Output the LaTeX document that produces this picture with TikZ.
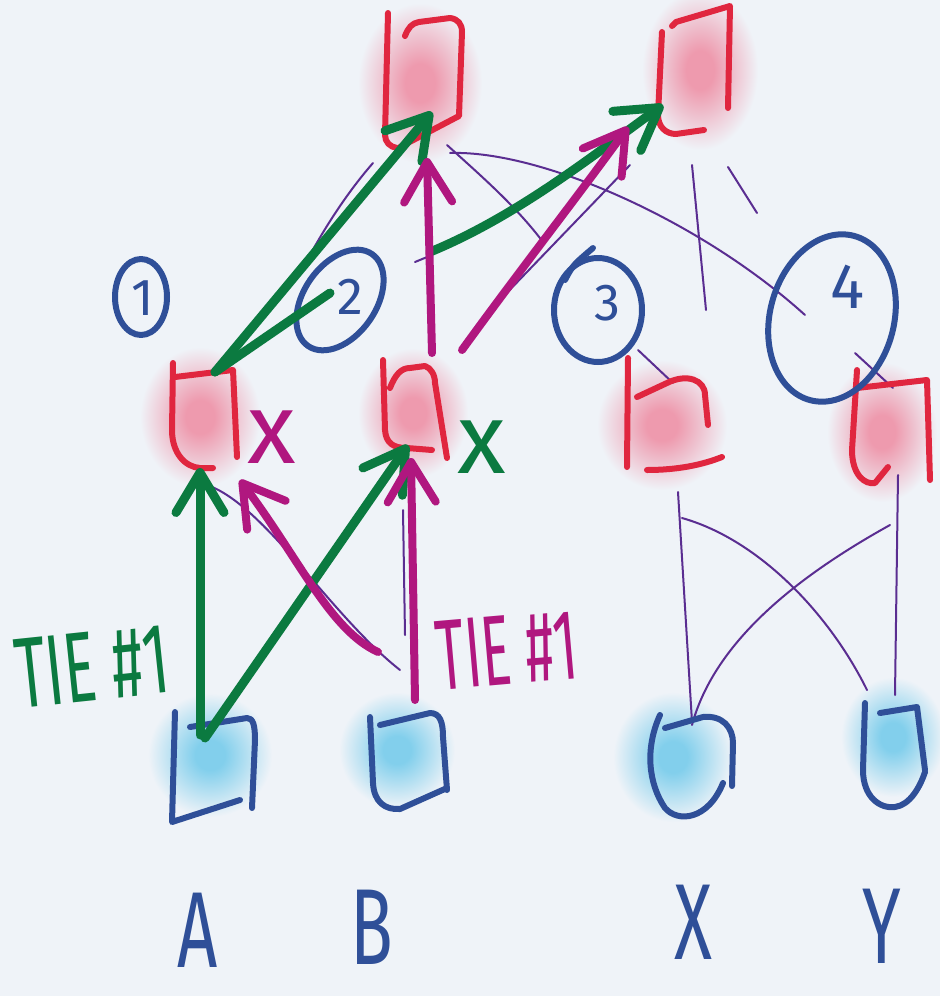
\documentclass[tikz,border=0pt]{standalone}
\usepackage{fontspec}
\newfontfamily\hand{Fira Sans}
\usetikzlibrary{arrows.meta}

\definecolor{bg}{HTML}{EFF3F8}
\definecolor{redc}{HTML}{E0263F}
\definecolor{bluec}{HTML}{2F4F98}
\definecolor{greenc}{HTML}{0B7A40}
\definecolor{magc}{HTML}{B0177F}
\definecolor{purc}{HTML}{5A2D91}
\definecolor{blobpink}{HTML}{EE9AAE}
\definecolor{blobblue}{HTML}{82CFEC}

\pgfdeclareradialshading{pinkblob}{\pgfpointorigin}{color(0bp)=(blobpink); color(6bp)=(blobpink); color(25bp)=(bg); color(50bp)=(bg)}
\pgfdeclareradialshading{blueblob}{\pgfpointorigin}{color(0bp)=(blobblue); color(6bp)=(blobblue); color(25bp)=(bg); color(50bp)=(bg)}

\tikzset{
  hub/.style={inner sep=0pt, minimum width=30pt, minimum height=40pt},
  redpen/.style={draw=redc, line width=3pt, line cap=round, line join=round},
  bluepen/.style={draw=bluec, line width=3pt, line cap=round, line join=round},
  gpen/.style={draw=greenc, line width=4.5pt, line cap=round, line join=round},
  mpen/.style={draw=magc, line width=4pt, line cap=round, line join=round},
  garrow/.style={gpen, -{Straight Barb[length=20pt, width=24pt, round]}},
  marrow/.style={mpen, -{Straight Barb[length=20pt, width=24pt, round]}},
  thin/.style={draw=purc, line width=1pt, line cap=round},
  pinkfuzz/.style={shading=pinkblob},
  bluefuzz/.style={shading=blueblob},
  digit/.style={font=\hand\fontsize{26}{26}\selectfont, text=bluec, inner sep=0pt},
  bigletter/.style={font=\hand\fontsize{54}{54}\selectfont, text=bluec, inner sep=0pt},
  note/.style={font=\hand\fontsize{50}{50}\selectfont, inner sep=0pt},
}

\begin{document}
\begin{tikzpicture}[x=0.5pt, y=-0.5pt]
% canvas
\fill[bg] (0,0) rectangle (940,996);
\useasboundingbox (0,0) rectangle (940,996);

% ---------- node anchors ----------
\node[hub] (T1) at (422,80) {};
\node[hub] (T2) at (698,72) {};
\node[hub] (M1) at (205,418) {};
\node[hub] (M2) at (415,408) {};
\node[hub] (M3) at (672,420) {};
\node[hub] (M4) at (890,430) {};
\node[hub] (A) at (212,770) {};
\node[hub] (B) at (405,762) {};
\node[hub] (X) at (693,768) {};
\node[hub] (Y) at (895,752) {};
\node[hub] (c1) at (141,297) {};
\node[hub] (c2) at (340,300) {};
\node[hub] (c3) at (598,310) {};
\node[hub] (c4) at (832,318) {};
\coordinate (gsplit) at (430,252);

% ---------- soft fills ----------
\shade[pinkfuzz] (420,83) ellipse [x radius=62, y radius=80];
\shade[pinkfuzz] (700,70) ellipse [x radius=58, y radius=80];
\shade[pinkfuzz] (200,417) ellipse [x radius=60, y radius=70];
\shade[pinkfuzz] (413,413) ellipse [x radius=55, y radius=65];
\shade[pinkfuzz] (662,425) ellipse [x radius=65, y radius=65];
\shade[pinkfuzz] (882,432) ellipse [x radius=55, y radius=70];
\shade[bluefuzz] (210,755) ellipse [x radius=62, y radius=62];
\shade[bluefuzz] (397,750) ellipse [x radius=58, y radius=58];
\shade[bluefuzz] (673,757) ellipse [x radius=60, y radius=65];
\shade[bluefuzz] (893,737) ellipse [x radius=52, y radius=60];

% ---------- thin purple edges ----------
\draw[thin] ([shift={(25,65)}]T1.center) .. controls (480,175) and (515,205) .. ([shift={(-55,-68)}]c3.center);
\draw[thin] ([shift={(28,73)}]T1.center) .. controls (540,150) and (700,220) .. ([shift={(-27,-3)}]c4.center);
\draw[thin] ([shift={(-6,93)}]T2.center) -- ([shift={(34,-110)}]M3.center);
\draw[thin] ([shift={(30,95)}]T2.center) -- ([shift={(59,141)}]T2.center);
\draw[thin] ([shift={(40,40)}]c3.center) -- ([shift={(1,-37)}]M3.center);
\draw[thin] ([shift={(23,35)}]c4.center) -- ([shift={(3,-42)}]M4.center);
\draw[thin] ([shift={(-38,-30)}]c2.center) .. controls (320,235) and (345,195) .. ([shift={(-49,83)}]T1.center);
\draw[thin] ([shift={(85,-108)}]M2.center) -- ([shift={(-68,93)}]T2.center);
\draw[thin] ([shift={(0,-146)}]M2.center) -- ([shift={(17,-153)}]M2.center);
\draw[thin] ([shift={(2,67)}]M1.center) .. controls (265,505) and (330,615) .. ([shift={(-5,-92)}]B.center);
\draw[thin] ([shift={(-12,102)}]M2.center) -- ([shift={(0,-127)}]B.center);
\draw[thin] ([shift={(6,72)}]M3.center) -- ([shift={(-1,-46)}]X.center);
\draw[thin] ([shift={(8,45)}]M4.center) -- ([shift={(0,-57)}]Y.center);
\draw[thin] ([shift={(10,98)}]M3.center) .. controls (760,540) and (830,615) .. ([shift={(-28,-62)}]Y.center);
\draw[thin] ([shift={(0,95)}]M4.center) .. controls (800,575) and (715,640) .. ([shift={(-1,-43)}]X.center);

% ---------- red boxes ----------
\begin{scope}[shift={(T1.center)}]
  \draw[redpen] (-34,-67) -- (-37,55) .. controls (-37,62) and (-32,67) .. (-25,68);
  \draw[redpen] (-17,-44) .. controls (-14,-52) and (-10,-57) .. (-3,-58) -- (28,-62)
     .. controls (36,-61) and (40,-56) .. (40,-48) -- (37,36) -- (-22,67);
\end{scope}
\begin{scope}[shift={(T2.center)}]
  \draw[redpen] (-36,-40) -- (-40,43) .. controls (-40,55) and (-32,62) .. (-22,62) -- (6,58);
  \draw[redpen] (-26,-46) -- (-22,-50) -- (32,-66) -- (30,36);
\end{scope}
\begin{scope}[shift={(M1.center)}]
  \draw[redpen] (-32,-55) -- (-33,12) .. controls (-33,35) and (-20,49) .. (-5,50) -- (8,50);
  \draw[redpen] (-30,-41) -- (28,-48) -- (32,39);
\end{scope}
\begin{scope}[shift={(M2.center)}]
  \draw[redpen] (-32,-48) -- (-30,22) .. controls (-29,35) and (-22,40) .. (-8,40) -- (17,42);
  \draw[redpen] (-25,-20) .. controls (-20,-33) and (-14,-40) .. (-5,-40) -- (10,-42)
     .. controls (16,-40) and (20,-33) .. (20,-25) -- (32,50);
\end{scope}
\begin{scope}[shift={(M3.center)}]
  \draw[redpen] (-44,-62) -- (-45,47);
  \draw[redpen] (-35,-23) -- (-5,-37) .. controls (15,-47) and (33,-40) .. (33,-25) -- (36,5);
  \draw[redpen] (-25,50) .. controls (5,50) and (30,45) .. (50,37);
\end{scope}
\begin{scope}[shift={(M4.center)}]
  \draw[redpen] (-33,-60) -- (-38,20) .. controls (-38,45) and (-25,55) .. (-15,53) -- (-2,37);
  \draw[redpen] (-33,-42) -- (37,-50) -- (40,50);
\end{scope}

% ---------- blue boxes ----------
\begin{scope}[shift={(A.center)}]
  \draw[bluepen] (-37,-58) -- (-40,52) -- (28,30);
  \draw[bluepen] (-22,-43) -- (35,-52) .. controls (41,-52) and (43,-45) .. (43,-30) -- (40,38);
\end{scope}
\begin{scope}[shift={(B.center)}]
  \draw[bluepen] (-35,-45) -- (-32,21) .. controls (-31,40) and (-20,48) .. (-5,47) -- (42,26);
  \draw[bluepen] (-25,-37) -- (25,-49) .. controls (35,-49) and (38,-40) .. (38,-25) -- (42,28);
\end{scope}
\begin{scope}[shift={(X.center)}]
  \draw[bluepen] (-33,-53) .. controls (-48,-20) and (-45,15) .. (-28,40) .. controls (-15,55) and (15,52) .. (30,15);
  \draw[bluepen] (-28,-40) -- (10,-51) .. controls (30,-53) and (40,-40) .. (40,-25) -- (39,18);
\end{scope}
\begin{scope}[shift={(Y.center)}]
  \draw[bluepen] (-30,-49) -- (-32,18) .. controls (-32,45) and (-15,57) .. (0,55) .. controls (15,53) and (25,35) .. (30,20);
  \draw[bluepen] (-15,-39) -- (22,-45) -- (30,18);
\end{scope}

% ---------- circled groups ----------
\draw[bluepen] (c1.center) ellipse [x radius=26, y radius=38];
\draw[bluepen] (c2.center) ellipse [x radius=36, y radius=56, rotate=-35];
\draw[bluepen] (c3.center) ellipse [x radius=44, y radius=52];
\draw[bluepen] ([shift={(-33,-30)}]c3.center) .. controls ([shift={(-25,-45)}]c3.center) .. ([shift={(-5,-62)}]c3.center);
\draw[bluepen] (c4.center) ellipse [x radius=62, y radius=85, rotate=-15];
\node[digit] (d1) at (143,298) {1};
\node[digit] (d2) at (350,297) {2};
\node[digit] (d3) at (607,303) {3};
\node[digit, font=\hand\fontsize{32}{32}\selectfont] (d4) at (848,287) {4};

% ---------- green path ----------
\draw[garrow] ([shift={(-12,-35)}]A.center) -- ([shift={(-5,50)}]M1.center);
\draw[garrow] ([shift={(-7,-32)}]A.center) -- ([shift={(-7,37)}]M2.center);
\draw[garrow] ([shift={(10,-46)}]M1.center) -- ([shift={(10,32)}]T1.center);
\draw[gpen] ([shift={(10,-46)}]M1.center) -- ([shift={(-10,-7)}]c2.center);
\draw[garrow] (gsplit) .. controls (520,215) and (600,150) .. ([shift={(-35,33)}]T2.center);

% ---------- magenta path ----------
\draw[marrow] ([shift={(-27,-110)}]B.center) .. controls (330,630) and (300,560) .. ([shift={(35,62)}]M1.center);
\draw[marrow] ([shift={(10,-62)}]B.center) -- ([shift={(-4,50)}]M2.center);
\draw[marrow] ([shift={(17,-55)}]M2.center) -- ([shift={(5,78)}]T1.center);
\draw[marrow] ([shift={(47,-58)}]M2.center) .. controls (520,270) and (575,200) .. ([shift={(-70,55)}]T2.center);

% ---------- annotations ----------
\node[note, text=greenc, rotate=6] (tieg) at (92,666) {\scalebox{0.6}[1]{TIE \#1}};
\node[note, text=magc, rotate=5] (tiem) at (507,650) {\scalebox{0.55}[1]{TIE \#1}};
\node[note, text=magc] (xm) at (272,437) {x};
\node[note, text=greenc] (xg) at (482,447) {x};

% ---------- input labels ----------
\node[bigletter] (lA) at (198,930) {\scalebox{0.65}[1]{A}};
\node[bigletter] (lB) at (372,927) {\scalebox{0.65}[1]{B}};
\node[bigletter] (lX) at (693,922) {\scalebox{0.65}[1]{X}};
\node[bigletter] (lY) at (882,926) {\scalebox{0.65}[1]{Y}};
\end{tikzpicture}
\end{document}
